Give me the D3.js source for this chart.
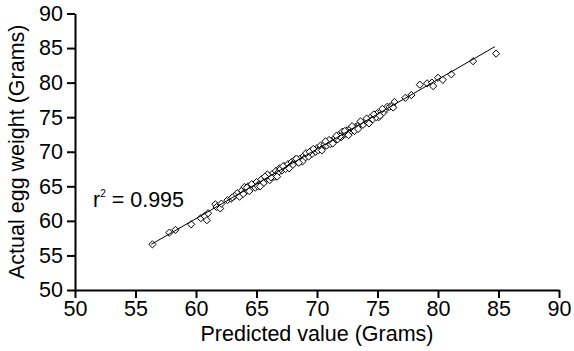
<!DOCTYPE html>
<html>
<head>
<meta charset="utf-8">
<script src="https://cdn.jsdelivr.net/npm/d3@7"></script>
<style>
  body { margin: 0; background: #fff; }
  svg text { font-family: "Liberation Sans", Arial, sans-serif; fill: #000; }
</style>
</head>
<body>
<svg id="chart" width="574" height="351"></svg>
<script>
// data
var predicted = [
  56.4, 57.8, 58.3, 59.6, 60.4, 60.7, 60.9, 61.0, 61.6, 61.7, 62.0, 62.1, 62.6, 62.9, 63.4,
  63.2, 63.6, 63.8, 64.0, 64.1, 64.3, 64.5, 64.7, 64.9, 65.0, 65.2, 65.4, 65.6, 65.8, 66.0,
  66.1, 66.3, 66.5, 66.6, 66.8, 66.9, 67.1, 67.3, 67.4, 67.6, 67.8, 67.9, 68.1, 68.2, 68.4,
  68.6, 68.7, 68.9, 69.0, 69.2, 69.3, 69.5, 69.6, 69.8, 69.9, 70.0, 70.2, 70.3, 70.5, 70.6,
  70.8, 70.9, 71.1, 71.2, 71.4, 71.5, 71.7, 71.8, 72.0, 72.1, 72.2, 72.4, 72.5, 72.7, 72.8,
  73.0, 73.2, 73.3, 73.5, 73.7, 73.8, 74.0, 74.2, 74.4, 74.6, 74.8, 75.0, 75.1, 75.3, 75.5,
  75.7, 75.8, 76.0, 76.4, 77.3, 77.8, 78.5, 79.1, 79.5, 79.6, 80.0, 80.4, 81.1, 82.9, 84.8,
  64.2, 65.1, 66.2, 67.0, 68.0, 69.1, 70.1, 71.0, 71.9, 72.3, 73.1, 74.1, 74.9, 76.2,
  63.9, 64.6, 65.3, 65.9, 66.7, 67.2, 67.7, 68.3, 68.8, 69.4, 70.4, 70.7, 71.3, 71.6,
  72.6, 72.9, 73.4, 73.6, 74.3, 74.7, 75.2, 75.4, 76.3, 63.0, 64.4, 65.7, 68.5, 69.7
];
var actual = [
  56.6, 58.3, 58.7, 59.5, 60.4, 60.7, 60.1, 61.1, 62.4, 62.0, 61.8, 62.5, 63.0, 63.2, 64.0,
  63.6, 63.5, 64.4, 64.9, 64.2, 65.0, 64.6, 65.2, 64.8, 65.6, 65.3, 66.0, 65.5, 66.1, 66.5,
  65.9, 66.8, 66.4, 67.2, 67.0, 67.6, 67.3, 67.9, 67.5, 68.2, 67.9, 68.5, 68.4, 68.9, 68.6,
  69.0, 68.7, 69.4, 69.1, 69.6, 69.3, 70.1, 69.7, 70.2, 70.0, 70.5, 70.4, 70.9, 70.6, 71.0,
  70.9, 71.4, 71.1, 71.6, 71.5, 72.0, 71.8, 72.4, 72.1, 72.9, 72.5, 72.6, 73.1, 72.8, 73.4,
  73.2, 73.6, 73.5, 74.0, 74.1, 73.9, 74.5, 74.3, 74.9, 74.7, 75.3, 75.6, 75.0, 75.8, 75.7,
  76.2, 76.5, 76.5, 77.2, 77.8, 78.2, 79.7, 79.9, 80.0, 79.5, 80.7, 80.4, 81.2, 83.1, 84.2,
  64.8, 65.0, 66.3, 67.5, 68.1, 69.8, 70.2, 71.7, 72.2, 73.0, 73.0, 74.8, 75.0, 76.6,
  63.9, 65.3, 65.0, 66.7, 66.4, 67.9, 67.6, 69.0, 68.6, 70.0, 70.2, 71.5, 71.2, 72.3,
  72.4, 73.7, 73.3, 74.4, 74.1, 75.4, 75.2, 76.2, 76.4, 63.4, 64.3, 66.4, 68.4, 70.4
];
// fitted line end points
var fitX = [56.3, 84.7];
var fitY = [56.6, 85.2];
var xTicks = [50, 55, 60, 65, 70, 75, 80, 85, 90];
var yTicks = [50, 55, 60, 65, 70, 75, 80, 85, 90];

var svg = d3.select("#chart");
var W = 574, H = 351;
var margin = {top: 13.5, right: 15, bottom: 61, left: 75};
var FONT = "21.5px";

var x = d3.scaleLinear().domain([50, 90]).range([margin.left, W - margin.right]);
var y = d3.scaleLinear().domain([50, 90]).range([H - margin.bottom, margin.top]);

// points
var diamond = "M0,-3.6L3.6,0L0,3.6L-3.6,0Z";
svg.append("g").selectAll("path")
  .data(d3.range(predicted.length))
  .enter()
  .append("path")
  .attr("d", diamond)
  .attr("transform", function(i){ return "translate(" + x(predicted[i]) + "," + y(actual[i]) + ")"; })
  .attr("fill", "#fff")
  .attr("stroke", "#000")
  .attr("stroke-width", 1);

// regression line
svg.append("line")
  .attr("x1", x(fitX[0])).attr("y1", y(fitY[0]))
  .attr("x2", x(fitX[1])).attr("y2", y(fitY[1]))
  .attr("stroke", "#000")
  .attr("stroke-width", 1);

// axes
var xAxis = svg.append("g")
  .attr("transform", "translate(0," + (H - margin.bottom) + ")")
  .call(d3.axisBottom(x).tickValues(xTicks).tickSizeInner(8).tickSizeOuter(0).tickPadding(3));
var yAxis = svg.append("g")
  .attr("transform", "translate(" + margin.left + ",0)")
  .call(d3.axisLeft(y).tickValues(yTicks).tickSizeInner(8).tickSizeOuter(0).tickPadding(4));

[xAxis, yAxis].forEach(function(a){
  a.selectAll("path, line").attr("stroke", "#000").attr("stroke-width", 2);
  a.selectAll("text").style("font-size", FONT).attr("fill", "#000");
});

// axis titles
svg.append("text")
  .attr("x", (margin.left + W - margin.right) / 2)
  .attr("y", 341)
  .attr("text-anchor", "middle")
  .style("font-size", FONT)
  .text("Predicted value (Grams)");

svg.append("text")
  .attr("transform", "translate(24," + ((margin.top + H - margin.bottom) / 2) + ") rotate(-90)")
  .attr("text-anchor", "middle")
  .style("font-size", FONT)
  .text("Actual egg weight (Grams)");

// r squared note
var r2 = svg.append("text")
  .attr("x", 93)
  .attr("y", 206.5)
  .style("font-size", FONT);
r2.append("tspan").text("r");
r2.append("tspan").attr("dy", -10).style("font-size", "10px").text("2");
r2.append("tspan").attr("dy", 10).text(" = 0.995");
</script>
</body>
</html>
